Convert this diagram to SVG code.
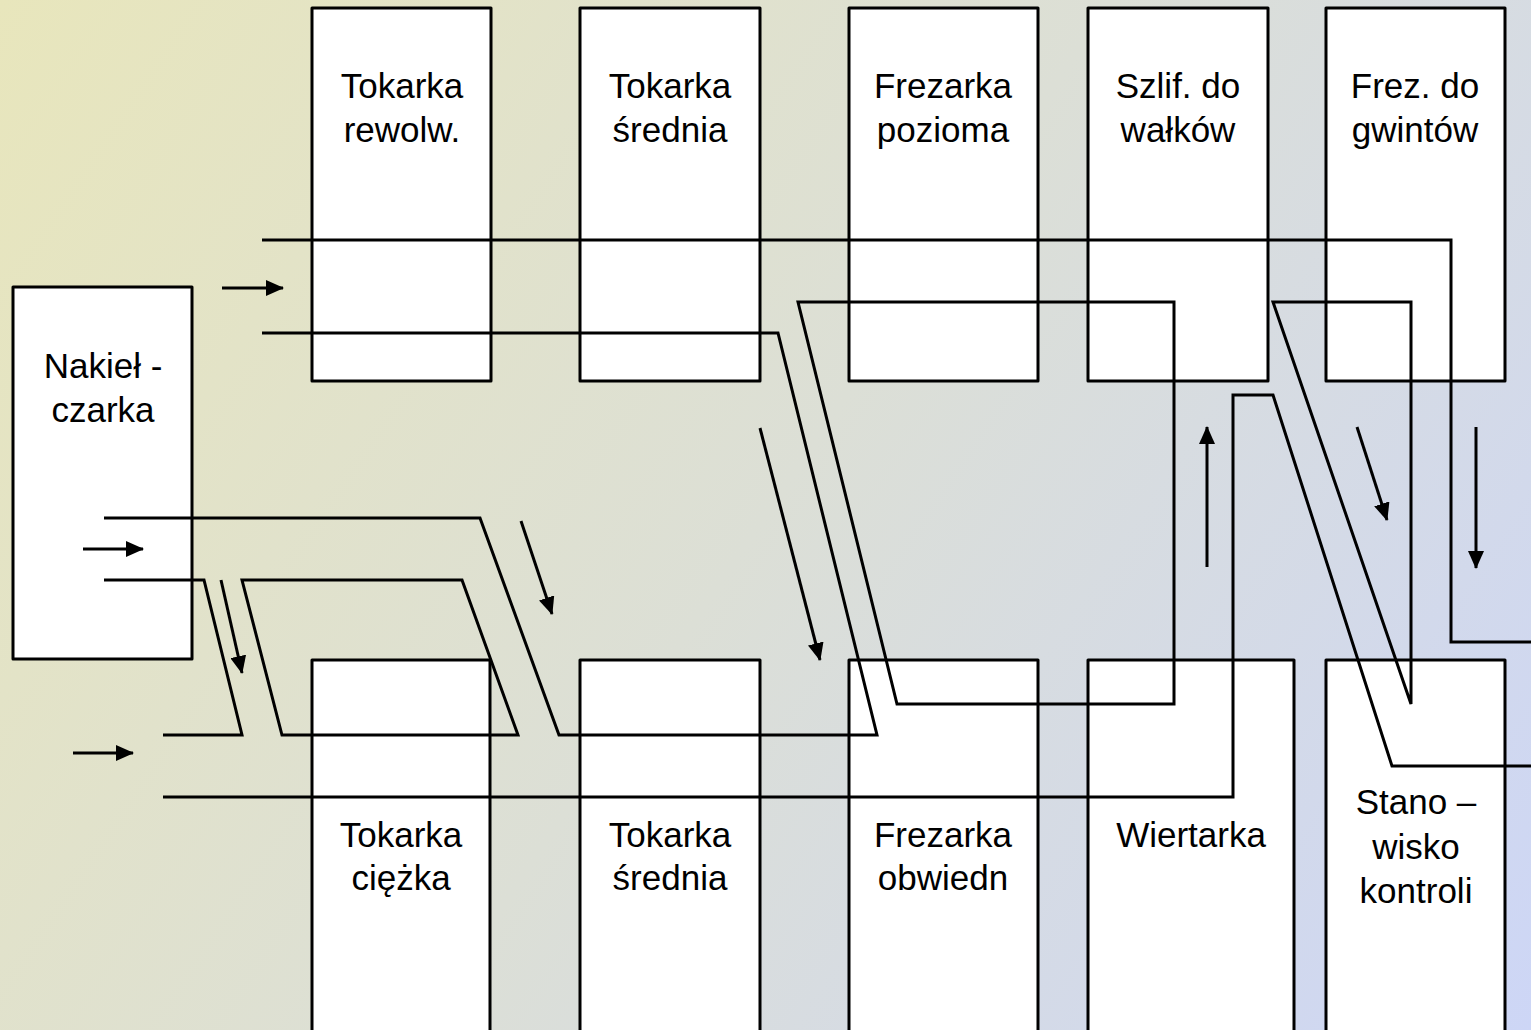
<svg xmlns="http://www.w3.org/2000/svg" width="1531" height="1030" viewBox="0 0 1531 1030">
  <defs>
    <linearGradient id="bg" x1="0" y1="0" x2="1531" y2="1030" gradientUnits="userSpaceOnUse">
      <stop offset="0" stop-color="#E8E6BC"/>
      <stop offset="0.5" stop-color="#DCDFD6"/>
      <stop offset="1" stop-color="#CDD6F6"/>
    </linearGradient>
    <marker id="head" viewBox="0 0 18 16" refX="17" refY="8" markerWidth="18" markerHeight="16" markerUnits="userSpaceOnUse" orient="auto">
      <path d="M0,0 L18,8 L0,16 Z" fill="#000"/>
    </marker>
    <style>
      .box { fill: #fff; stroke: #000; stroke-width: 3; stroke-linejoin: round; }
      .lbl { font-family: "Liberation Sans", Arial, sans-serif; font-size: 35px; fill: #000; text-anchor: middle; }
      .flow { fill: none; stroke: #000; stroke-width: 3; stroke-linejoin: miter; }
      .arr { fill: none; stroke: #000; stroke-width: 3; marker-end: url(#head); }
    </style>
  </defs>

  <rect x="0" y="0" width="1531" height="1030" fill="url(#bg)"/>

  <!-- upper row of machines -->
  <g id="tokarka-rewolw">
    <rect class="box" x="312" y="8" width="179" height="373"/>
    <text class="lbl" x="402" y="98">Tokarka</text>
    <text class="lbl" x="402" y="142">rewolw.</text>
  </g>
  <g id="tokarka-srednia-gora">
    <rect class="box" x="580" y="8" width="180" height="373"/>
    <text class="lbl" x="670" y="98">Tokarka</text>
    <text class="lbl" x="670" y="142">średnia</text>
  </g>
  <g id="frezarka-pozioma">
    <rect class="box" x="849" y="8" width="189" height="373"/>
    <text class="lbl" x="943" y="98">Frezarka</text>
    <text class="lbl" x="943" y="142">pozioma</text>
  </g>
  <g id="szlif-do-walkow">
    <rect class="box" x="1088" y="8" width="180" height="373"/>
    <text class="lbl" x="1178" y="98">Szlif. do</text>
    <text class="lbl" x="1178" y="142">wałków</text>
  </g>
  <g id="frez-do-gwintow">
    <rect class="box" x="1326" y="8" width="179" height="373"/>
    <text class="lbl" x="1415" y="98">Frez. do</text>
    <text class="lbl" x="1415" y="142">gwintów</text>
  </g>

  <!-- stock cutting station -->
  <g id="nakielczarka">
    <rect class="box" x="13" y="287" width="179" height="372"/>
    <text class="lbl" x="103" y="378">Nakieł -</text>
    <text class="lbl" x="103" y="422">czarka</text>
  </g>

  <!-- lower row of machines -->
  <g id="tokarka-ciezka">
    <rect class="box" x="312" y="660" width="178" height="390"/>
    <text class="lbl" x="401" y="847">Tokarka</text>
    <text class="lbl" x="401" y="890">ciężka</text>
  </g>
  <g id="tokarka-srednia-dol">
    <rect class="box" x="580" y="660" width="180" height="390"/>
    <text class="lbl" x="670" y="847">Tokarka</text>
    <text class="lbl" x="670" y="890">średnia</text>
  </g>
  <g id="frezarka-obwiedn">
    <rect class="box" x="849" y="660" width="189" height="390"/>
    <text class="lbl" x="943" y="847">Frezarka</text>
    <text class="lbl" x="943" y="890">obwiedn</text>
  </g>
  <g id="wiertarka">
    <rect class="box" x="1088" y="660" width="206" height="390"/>
    <text class="lbl" x="1191" y="847">Wiertarka</text>
  </g>
  <g id="stanowisko-kontroli">
    <rect class="box" x="1326" y="660" width="179" height="390"/>
    <text class="lbl" x="1416" y="814">Stano –</text>
    <text class="lbl" x="1416" y="859">wisko</text>
    <text class="lbl" x="1416" y="903">kontroli</text>
  </g>

  <!-- material flow routes and direction arrows -->
  <g id="connectors">
    <polyline class="flow" points="262,240 1451,240 1451,642 1531,642"/>
    <polyline class="flow" points="262,333 778,333 877,735 559,735 480,518 104,518"/>
    <polygon class="flow" points="798,302 1174,302 1174,704 897,704"/>
    <polygon class="flow" points="1273,302 1411,302 1411,704"/>
    <polyline class="flow" points="163,797 1233,797 1233,395 1273,395 1392,766 1531,766"/>
    <polyline class="flow" points="104,580 204,580 242,735 163,735"/>
    <polygon class="flow" points="242,580 462,580 518,735 282,735"/>

    <line class="arr" x1="222" y1="288" x2="283" y2="288"/>
    <line class="arr" x1="83" y1="549" x2="143" y2="549"/>
    <line class="arr" x1="73" y1="753" x2="133" y2="753"/>
    <line class="arr" x1="221" y1="580" x2="242" y2="673"/>
    <line class="arr" x1="521" y1="521" x2="552" y2="614"/>
    <line class="arr" x1="760" y1="428" x2="820" y2="660"/>
    <line class="arr" x1="1207" y1="567" x2="1207" y2="427"/>
    <line class="arr" x1="1357" y1="427" x2="1387" y2="520"/>
    <line class="arr" x1="1476" y1="427" x2="1476" y2="568"/>
  </g>
</svg>
